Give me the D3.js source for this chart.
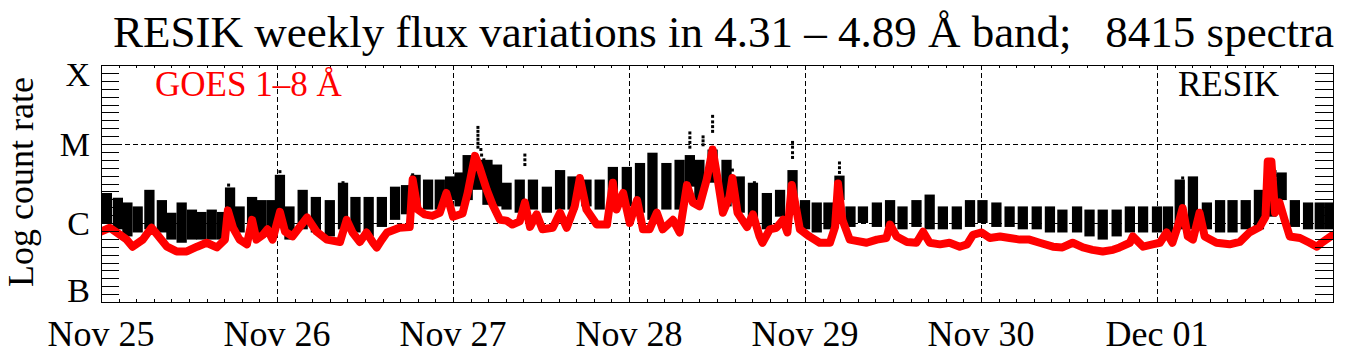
<!DOCTYPE html>
<html><head><meta charset="utf-8">
<script src="https://cdn.jsdelivr.net/npm/d3@7"></script>
<style>body{margin:0;background:#fff} svg{display:block} text{font-family:"Liberation Serif","Times New Roman",serif}</style>
</head><body><svg id="c" width="1347" height="358"></svg>
<script>
// ---------------- data ----------------
const titleText = "RESIK weekly flux variations in 4.31 \u2013 4.89 \u00C5 band;   8415 spectra";
const dayLabels = ["Nov 25","Nov 26","Nov 27","Nov 28","Nov 29","Nov 30","Dec 01"];
const classLabels = ["B","C","M","X"];
const classLog = [-7,-6,-5,-4];
// GOES 1-8 A: [hours since Nov 25 00:00, log10 flux]
const goes = [[0,-6.11],[1.2,-6.06],[2.6,-6.15],[3.5,-6.21],[4.3,-6.30],[5.7,-6.21],[6.9,-6.06],[7.7,-6.15],[9.0,-6.30],[10.3,-6.36],[11.7,-6.36],[13.1,-6.30],[14.4,-6.25],[15.8,-6.31],[16.9,-6.21],[17.3,-5.84],[18.0,-6.06],[18.9,-6.21],[19.9,-6.27],[20.6,-5.96],[21.2,-6.21],[22.1,-6.15],[22.7,-6.08],[23.4,-6.21],[24.4,-5.86],[25.1,-6.11],[26.1,-6.17],[28.1,-5.93],[29.4,-6.11],[30.8,-6.21],[32.6,-6.24],[33.5,-5.96],[34.3,-6.12],[35.3,-6.24],[36.2,-6.12],[37.1,-6.25],[37.6,-6.31],[38.3,-6.21],[39.0,-6.12],[40.7,-6.06],[42.1,-6.05],[42.5,-5.45],[43.2,-5.83],[44.1,-5.89],[45.2,-5.91],[46.2,-5.87],[47.1,-5.62],[48.0,-5.92],[49.3,-5.88],[50.0,-5.62],[51.0,-5.15],[51.6,-5.29],[52.6,-5.58],[53.4,-5.77],[54.4,-5.96],[55.3,-5.97],[56.1,-6.02],[57.1,-5.98],[57.8,-5.74],[58.5,-6.05],[59.4,-5.89],[60.2,-6.08],[61.6,-6.06],[62.6,-5.87],[63.5,-6.06],[64.6,-5.79],[65.3,-5.43],[66.2,-5.83],[67.6,-6.02],[69.0,-6.02],[69.8,-5.49],[70.3,-5.83],[71.2,-5.62],[72.1,-6.00],[73.1,-5.71],[73.9,-6.08],[74.8,-6.08],[75.8,-5.87],[76.6,-6.08],[78.0,-5.96],[78.9,-6.12],[79.9,-5.52],[80.7,-5.74],[81.6,-5.79],[82.6,-5.45],[83.4,-5.07],[84.1,-5.45],[84.8,-5.87],[85.7,-5.67],[86.1,-5.43],[86.8,-5.87],[88.1,-6.05],[88.9,-5.89],[89.8,-6.17],[90.2,-6.25],[91.2,-6.08],[92.1,-6.06],[93.0,-5.96],[93.6,-6.12],[94.2,-5.52],[94.9,-5.87],[95.3,-6.08],[96.6,-6.17],[98.0,-6.25],[99.4,-6.25],[100.1,-6.05],[100.5,-5.50],[101.1,-5.96],[102.1,-6.21],[104.4,-6.25],[105.8,-6.21],[107.1,-6.19],[107.6,-6.02],[108.5,-6.17],[109.9,-6.24],[111.2,-6.25],[112.1,-6.11],[113.0,-6.25],[114.4,-6.27],[115.7,-6.25],[117.1,-6.30],[118.1,-6.27],[118.9,-6.15],[120.1,-6.12],[121.2,-6.19],[122.6,-6.17],[123.9,-6.19],[125.3,-6.21],[126.6,-6.21],[128.0,-6.25],[129.8,-6.30],[131.1,-6.31],[132.5,-6.25],[133.9,-6.31],[135.2,-6.34],[136.6,-6.36],[138.0,-6.34],[138.9,-6.31],[140.3,-6.25],[140.7,-6.17],[142.1,-6.30],[143.4,-6.27],[144.4,-6.25],[145.3,-6.12],[146.1,-6.25],[146.8,-6.05],[147.5,-5.81],[148.2,-6.17],[148.9,-6.21],[149.8,-5.87],[150.5,-6.17],[152.1,-6.25],[153.9,-6.27],[155.3,-6.24],[156.6,-6.12],[158.0,-6.05],[158.8,-5.92],[159.1,-5.22],[159.6,-5.22],[160.1,-5.87],[160.7,-5.74],[161.4,-5.96],[162.1,-6.17],[163.5,-6.19],[164.8,-6.25],[165.8,-6.30],[166.6,-6.24],[168.0,-6.15]];
// RESIK orbit segments: [hours, log10 upper, log10 lower]
const resikOrbits = [[0.8,-5.62,-6.00],[2.3,-5.68,-6.08],[3.6,-5.74,-6.17],[5.0,-5.79,-6.12],[6.6,-5.58,-6.08],[8.3,-5.71,-6.12],[9.6,-5.87,-6.21],[11.0,-5.74,-6.25],[12.4,-5.83,-6.21],[13.7,-5.86,-6.21],[15.1,-5.83,-6.21],[16.5,-5.86,-6.21],[17.6,-5.55,-6.02],[18.9,-5.79,-6.12],[20.6,-5.67,-6.05],[21.9,-5.71,-6.17],[23.3,-5.71,-6.12],[24.4,-5.39,-5.92],[25.7,-5.79,-6.21],[27.5,-5.58,-6.08],[29.3,-5.67,-6.12],[31.2,-5.71,-6.17],[33.0,-5.49,-6.08],[34.7,-5.67,-6.12],[36.5,-5.67,-6.17],[38.3,-5.67,-6.05],[40.1,-5.54,-5.96],[41.6,-5.52,-5.89],[42.9,-5.39,-5.83],[44.6,-5.45,-5.83],[46.2,-5.45,-5.83],[47.6,-5.41,-5.71],[48.9,-5.36,-5.79],[50.0,-5.14,-5.71],[51.4,-5.20,-5.58],[52.7,-5.20,-5.77],[54.0,-5.26,-5.79],[55.3,-5.49,-5.83],[57.1,-5.45,-5.87],[58.9,-5.45,-5.83],[60.8,-5.54,-5.87],[62.6,-5.33,-5.83],[64.3,-5.41,-5.83],[66.2,-5.45,-5.79],[68.0,-5.45,-5.83],[69.8,-5.29,-5.83],[71.7,-5.29,-5.79],[73.5,-5.24,-5.87],[75.2,-5.11,-5.96],[77.1,-5.24,-5.83],[78.9,-5.20,-5.83],[80.3,-5.14,-5.54],[81.6,-5.20,-5.71],[83.4,-5.07,-5.49],[85.3,-5.20,-5.79],[87.1,-5.41,-5.87],[88.9,-5.49,-6.00],[90.8,-5.62,-6.08],[92.6,-5.58,-5.92],[94.3,-5.33,-5.83],[96.0,-5.71,-6.08],[97.6,-5.74,-6.12],[99.2,-5.74,-6.08],[100.7,-5.40,-5.71],[102.2,-5.79,-6.05],[103.9,-5.79,-6.00],[105.8,-5.74,-6.05],[107.6,-5.71,-6.05],[109.3,-5.79,-6.08],[111.2,-5.71,-6.05],[113.0,-5.64,-6.08],[114.8,-5.79,-6.08],[116.7,-5.79,-6.08],[118.5,-5.71,-6.05],[120.2,-5.71,-6.00],[122.1,-5.74,-6.05],[123.9,-5.79,-6.05],[125.7,-5.79,-6.08],[127.6,-5.79,-6.08],[129.4,-5.79,-6.12],[131.1,-5.83,-6.12],[133.1,-5.79,-6.12],[134.8,-5.83,-6.17],[136.6,-5.83,-6.21],[138.5,-5.83,-6.17],[140.3,-5.79,-6.12],[142.1,-5.79,-6.12],[144.0,-5.79,-6.12],[145.5,-5.79,-6.17],[147.1,-5.45,-6.08],[148.9,-5.41,-6.08],[150.8,-5.74,-6.08],[152.6,-5.71,-6.12],[154.3,-5.71,-6.12],[156.1,-5.71,-6.08],[157.9,-5.58,-6.08],[159.6,-5.33,-5.92],[161.0,-5.36,-5.71],[162.8,-5.71,-6.05],[164.6,-5.74,-6.08],[166.2,-5.74,-6.08],[167.6,-5.74,-6.08]];
// isolated RESIK points (flare peaks): [hours, log10]
const resikDots = [[17.4,-5.52],[17.4,-5.58],[17.7,-5.64],[24.4,-5.35],[24.5,-5.43],[24.4,-5.49],[33.0,-5.49],[33.0,-5.55],[33.1,-5.62],[42.5,-5.39],[42.5,-5.45],[51.4,-4.79],[51.4,-4.84],[51.4,-4.89],[51.4,-4.94],[51.4,-4.99],[51.4,-5.04],[51.8,-5.07],[51.9,-5.14],[52.2,-5.20],[52.5,-5.26],[52.7,-5.33],[53.1,-5.39],[53.6,-5.45],[54.0,-5.52],[54.4,-5.58],[54.9,-5.62],[57.8,-5.14],[57.8,-5.20],[57.8,-5.26],[62.3,-5.35],[62.3,-5.43],[80.3,-4.86],[80.3,-4.92],[80.3,-4.98],[80.3,-5.04],[82.1,-4.91],[82.1,-4.96],[82.1,-5.01],[83.4,-4.65],[83.4,-4.72],[83.4,-4.78],[83.4,-4.84],[85.7,-5.26],[86.1,-5.33],[89.1,-5.49],[89.1,-5.55],[94.3,-4.98],[94.3,-5.04],[94.3,-5.11],[94.3,-5.17],[100.7,-5.24],[100.7,-5.30],[100.7,-5.36],[100.9,-5.43],[147.5,-5.43],[147.5,-5.49],[147.5,-5.55],[159.9,-5.35],[160.2,-5.40],[160.5,-5.45]];

// ---------------- chart ----------------
const FONT = '"Liberation Serif","Times New Roman",Times,serif';
const m = {l:101, r:1333, t:65, b:302};
const t0 = Date.UTC(2002,10,25);
const hr = h => new Date(t0 + h*3600e3);
const x = d3.scaleUtc().domain([hr(0), hr(168)]).range([m.l, m.r]);
const y = d3.scaleLog().domain([1e-7, 1e-4]).range([m.b, m.t]);
const yl = v => y(Math.pow(10, v));
const svg = d3.select('#c');
const px = v => Math.round(v) + 0.5;

svg.append('defs').append('clipPath').attr('id','clip').append('rect')
  .attr('x', m.l).attr('y', m.t).attr('width', m.r-m.l).attr('height', m.b-m.t);

// grid
const days = d3.range(1, 7).map(d => hr(d*24));
svg.append('g').selectAll('line').data(days).join('line')
  .attr('x1', d => px(x(d))).attr('x2', d => px(x(d))).attr('y1', m.t).attr('y2', m.b)
  .attr('stroke', '#000').attr('stroke-dasharray', '5,3');
svg.append('g').selectAll('line').data(classLog.slice(1,3)).join('line')
  .attr('x1', m.l).attr('x2', m.r).attr('y1', d => px(yl(d))).attr('y2', d => px(yl(d)))
  .attr('stroke', '#000').attr('stroke-dasharray', '5,3');

const dataG = svg.append('g').attr('clip-path', 'url(#clip)');
// RESIK orbit streaks
dataG.append('g').attr('fill', '#000').selectAll('rect').data(resikOrbits).join('rect')
  .attr('x', d => x(hr(d[0]-0.7))).attr('width', d => x(hr(d[0]+0.7)) - x(hr(d[0]-0.7)))
  .attr('y', d => yl(d[1])).attr('height', d => yl(d[2]) - yl(d[1]));
dataG.append('g').selectAll('rect').data(resikDots).join('rect')
  .attr('x', d => x(hr(d[0])) - 1.5).attr('y', d => yl(d[1]) - 1.5)
  .attr('width', 3).attr('height', 3).attr('fill', '#000');
// GOES
const line = d3.line().x(d => x(hr(d[0]))).y(d => yl(d[1]));
dataG.append('path').datum(goes).attr('d', line)
  .attr('fill', 'none').attr('stroke', '#ff0000').attr('stroke-width', 8)
  .attr('stroke-linejoin', 'round').attr('stroke-linecap', 'round');

// ticks
const yt = d3.range(0, 31).map(k => -7 + k/10);
const tg = svg.append('g').attr('stroke', '#000').attr('stroke-width', 1);
tg.selectAll('.yl').data(yt).join('line').attr('class','yl')
  .attr('x1', m.l).attr('x2', m.l+18).attr('y1', d => px(yl(d))).attr('y2', d => px(yl(d)));
tg.selectAll('.yr').data(yt).join('line').attr('class','yr')
  .attr('x1', m.r-18).attr('x2', m.r).attr('y1', d => px(yl(d))).attr('y2', d => px(yl(d)));
const xt = d3.range(0, 71).map(k => hr(k*2.4));
tg.selectAll('.xb').data(xt).join('line').attr('class','xb')
  .attr('x1', d => px(x(d))).attr('x2', d => px(x(d))).attr('y1', m.b).attr('y2', m.b-3);
tg.selectAll('.xt').data(xt).join('line').attr('class','xt')
  .attr('x1', d => px(x(d))).attr('x2', d => px(x(d))).attr('y1', m.t).attr('y2', m.t+3);
svg.append('rect').attr('x', m.l+0.5).attr('y', m.t+0.5).attr('width', m.r-m.l).attr('height', m.b-m.t)
  .attr('fill', 'none').attr('stroke', '#000');

// labels
svg.append('g').selectAll('text').data(dayLabels).join('text')
  .attr('x', (d,i) => x(hr(i*24))).attr('y', 346).attr('text-anchor', 'middle')
  .attr('font-family', FONT).attr('font-size', 36).text(d => d);
svg.append('g').selectAll('text').data(classLabels).join('text')
  .attr('x', 90).attr('text-anchor', 'end').attr('font-family', FONT).attr('font-size', 34)
  .attr('y', (d,i) => Math.max(m.t + 21, Math.min(m.b, yl(classLog[i]) + 11.5)))
  .text(d => d);
svg.append('text').attr('transform', 'translate(33,182) rotate(-90)').attr('text-anchor', 'middle')
  .attr('font-family', FONT).attr('font-size', 36).text('Log count rate');
svg.append('text').attr('x', 113).attr('y', 47).attr('font-family', FONT).attr('font-size', 45)
  .style('white-space', 'pre').text(titleText);
svg.append('text').attr('x', 155).attr('y', 96).attr('font-family', FONT).attr('font-size', 35).attr('fill', '#ff0000')
  .text('GOES 1\u20138 \u00C5');
svg.append('text').attr('x', 1178).attr('y', 96).attr('font-family', FONT).attr('font-size', 35).text('RESIK');
</script></body></html>
